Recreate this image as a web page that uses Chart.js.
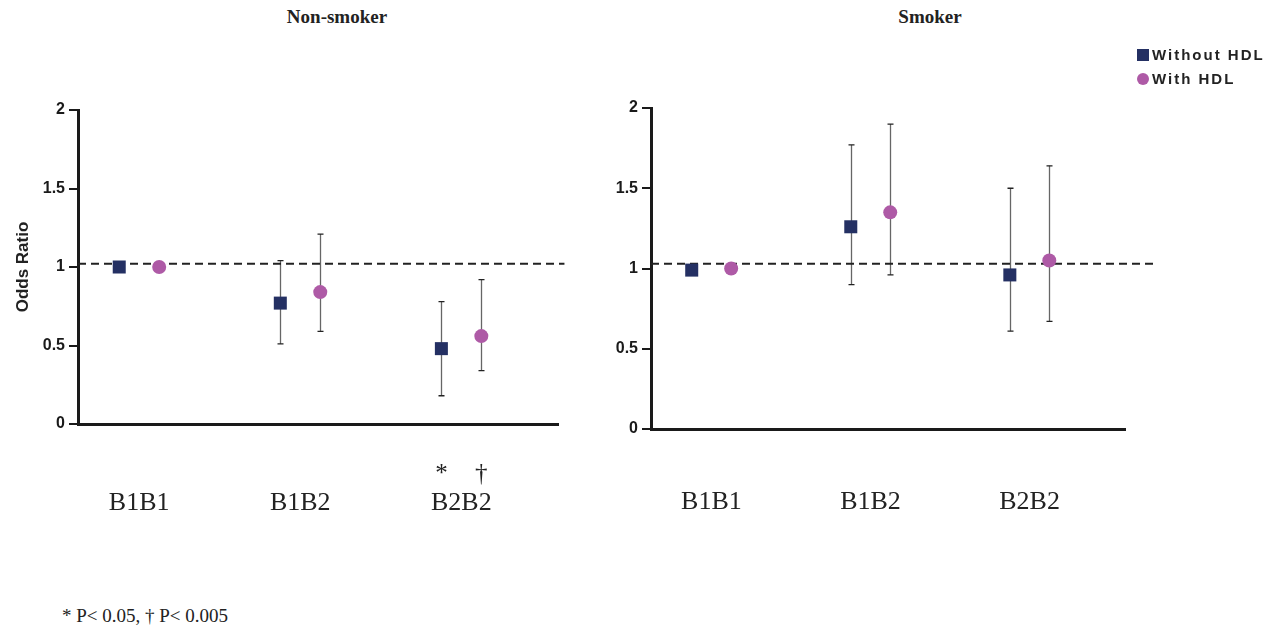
<!DOCTYPE html>
<html lang="en">
<head>
    <title>Odds Ratio by genotype</title>
    <meta charset="utf-8">
    <script src="https://cdn.jsdelivr.net/npm/chart.js@4.4.0/dist/chart.umd.min.js"></script>
    <style>
        body { margin: 0; background: #fff; width: 1273px; height: 630px; position: relative; overflow: hidden; }
        canvas { position: absolute; top: 0; }
        .title { position: absolute; top: 6px; font: bold 19px "Liberation Serif", serif; color: #222; transform: translateX(-50%); white-space: nowrap; }
        #legend { position: absolute; left: 1137px; top: 43px; font: bold 15px "Liberation Sans", Arial, sans-serif; letter-spacing: 2px; color: #222; }
        #legend div { height: 24px; line-height: 20px; display: flex; align-items: center; }
        #legend span.mk { display: inline-block; width: 12px; height: 12px; margin-right: 3px; }
        #note { position: absolute; left: 62px; top: 605px; font: 19px "Liberation Serif", serif; color: #222; }
    </style>
</head>
<body>
<div class="title" style="left:337px">Non-smoker</div>
<div class="title" style="left:930px">Smoker</div>
<canvas id="left" width="600" height="540" style="left:0px"></canvas>
<canvas id="right" width="620" height="540" style="left:580px"></canvas>
<div id="legend"></div>
<div id="note">* P&lt; 0.05, † P&lt; 0.005</div>

<script>
    // data
    const categories = ['B1B1', 'B1B2', 'B2B2'];
    const seriesNames = ['Without HDL', 'With HDL'];
    const yTicks = [0, 0.5, 1, 1.5, 2];

    // non-smoker
    const nsWithout = [1.0, 0.77, 0.48];
    const nsWithoutLo = [null, 0.51, 0.18];
    const nsWithoutHi = [null, 1.04, 0.78];
    const nsWith = [1.0, 0.84, 0.56];
    const nsWithLo = [null, 0.59, 0.34];
    const nsWithHi = [null, 1.21, 0.92];
    const nsRef = 1.02;
    const nsSigWithout = ['', '', '*'];
    const nsSigWith = ['', '', '†'];

    // smoker
    const smWithout = [0.99, 1.26, 0.96];
    const smWithoutLo = [null, 0.90, 0.61];
    const smWithoutHi = [null, 1.77, 1.50];
    const smWith = [1.0, 1.35, 1.05];
    const smWithLo = [null, 0.96, 0.67];
    const smWithHi = [null, 1.90, 1.64];
    const smRef = 1.03;

    const navy = '#243063';
    const purple = '#ae5aa6';
    const OFF = 0.124;
    const X_MIN = -0.38, X_MAX = 2.6;

    // legend
    const legend = document.getElementById('legend');
    seriesNames.forEach((name, i) => {
        const row = document.createElement('div');
        const mk = document.createElement('span');
        mk.className = 'mk';
        mk.style.background = i === 0 ? navy : purple;
        if (i === 1) mk.style.borderRadius = '50%';
        row.appendChild(mk);
        row.appendChild(document.createTextNode(name));
        legend.appendChild(row);
    });

    const errorBars = {
        id: 'errorBars',
        beforeDatasetsDraw(chart, args, opts) {
            const ctx = chart.ctx;
            const xs = chart.scales.x, ys = chart.scales.y;
            opts.bars.forEach(b => {
                b.lo.forEach((lo, i) => {
                    const hi = b.hi[i];
                    if (lo == null || hi == null) return;
                    const px = Math.round(xs.getPixelForValue(i + b.off)) + 0.5;
                    const y1 = ys.getPixelForValue(lo), y2 = ys.getPixelForValue(hi);
                    ctx.save();
                    ctx.strokeStyle = '#666';
                    ctx.lineWidth = 1.3;
                    ctx.beginPath();
                    ctx.moveTo(px, y1); ctx.lineTo(px, y2);
                    ctx.stroke();
                    ctx.strokeStyle = '#222';
                    ctx.beginPath();
                    ctx.moveTo(px - 3, y1); ctx.lineTo(px + 3, y1);
                    ctx.moveTo(px - 3, y2); ctx.lineTo(px + 3, y2);
                    ctx.stroke();
                    ctx.restore();
                });
            });
        },
        afterDraw(chart, args, opts) {
            if (!opts.sig) return;
            const ctx = chart.ctx;
            const xs = chart.scales.x;
            ctx.save();
            ctx.fillStyle = '#222';
            ctx.font = '25px "Liberation Serif", serif';
            ctx.textAlign = 'center';
            ctx.textBaseline = 'alphabetic';
            opts.sig.forEach(s => {
                s.marks.forEach((m, i) => {
                    if (!m) return;
                    ctx.fillText(m, xs.getPixelForValue(i + s.off), xs.top + 57);
                });
            });
            ctx.restore();
        }
    };

    function makePanel(id, p) {
        const ctx = document.getElementById(id).getContext('2d');
        return new Chart(ctx, {
            type: 'scatter',
            data: {
                datasets: [
                    {
                        label: seriesNames[0],
                        data: p.without.map((v, i) => ({x: i - OFF, y: v})),
                        pointStyle: 'rect',
                        pointRadius: 9.2,
                        backgroundColor: navy,
                        borderWidth: 0
                    },
                    {
                        label: seriesNames[1],
                        data: p.with.map((v, i) => ({x: i + OFF, y: v})),
                        pointStyle: 'circle',
                        pointRadius: 7,
                        backgroundColor: purple,
                        borderWidth: 0
                    },
                    {
                        type: 'line',
                        label: 'ref',
                        data: [{x: X_MIN, y: p.ref}, {x: p.refEnd, y: p.ref}],
                        borderColor: '#222',
                        borderWidth: 2,
                        borderDash: [8, 5],
                        pointRadius: 0,
                        clip: false,
                        order: 5
                    }
                ]
            },
            options: {
                responsive: false,
                devicePixelRatio: 1,
                animation: false,
                layout: { padding: p.padding },
                plugins: {
                    legend: { display: false },
                    tooltip: { enabled: false },
                    errorBars: {
                        bars: [
                            {lo: p.withoutLo, hi: p.withoutHi, off: -OFF},
                            {lo: p.withLo, hi: p.withHi, off: OFF}
                        ],
                        sig: p.sig
                    }
                },
                scales: {
                    x: {
                        type: 'linear',
                        min: X_MIN,
                        max: X_MAX,
                        afterFit: s => { s.height = p.xHeight; },
                        afterBuildTicks: s => { s.ticks = categories.map((c, i) => ({value: i})); },
                        ticks: {
                            callback: v => categories[v],
                            font: { family: '"Liberation Serif", serif', size: 26 },
                            color: '#222',
                            padding: p.labelPad,
                            maxRotation: 0
                        },
                        grid: { display: false, drawTicks: false },
                        border: { display: true, color: '#1a1a1a', width: 3 }
                    },
                    y: {
                        min: 0,
                        max: 2,
                        afterFit: s => { s.width = p.yWidth; },
                        afterBuildTicks: s => { s.ticks = yTicks.map(v => ({value: v})); },
                        ticks: {
                            callback: v => String(v),
                            font: { family: '"Liberation Sans", Arial, sans-serif', size: 16, weight: 'bold' },
                            color: '#1a1a1a',
                            padding: 4
                        },
                        grid: { drawOnChartArea: false, color: '#1a1a1a', lineWidth: 2, tickLength: 9 },
                        border: { display: true, color: '#1a1a1a', width: 3 },
                        title: {
                            display: p.yTitle,
                            text: 'Odds Ratio',
                            font: { family: '"Liberation Sans", Arial, sans-serif', size: 17, weight: 'bold' },
                            color: '#222',
                            padding: { top: 13, bottom: 0 }
                        }
                    }
                }
            },
            plugins: [errorBars]
        });
    }

    makePanel('left', {
        without: nsWithout, withoutLo: nsWithoutLo, withoutHi: nsWithoutHi,
        with: nsWith, withLo: nsWithLo, withHi: nsWithHi,
        ref: nsRef, refEnd: X_MAX + 0.04,
        sig: [{marks: nsSigWithout, off: -OFF}, {marks: nsSigWith, off: OFF}],
        padding: {top: 110, right: 42, bottom: 0, left: 0},
        yWidth: 78, xHeight: 116, yTitle: true, labelPad: 64
    });

    makePanel('right', {
        without: smWithout, withoutLo: smWithoutLo, withoutHi: smWithoutHi,
        with: smWith, withLo: smWithLo, withHi: smWithHi,
        ref: smRef, refEnd: 2.78,
        sig: null,
        padding: {top: 108, right: 75, bottom: 0, left: 0},
        yWidth: 71, xHeight: 111, yTitle: false, labelPad: 58
    });
</script>
</body>
</html>
